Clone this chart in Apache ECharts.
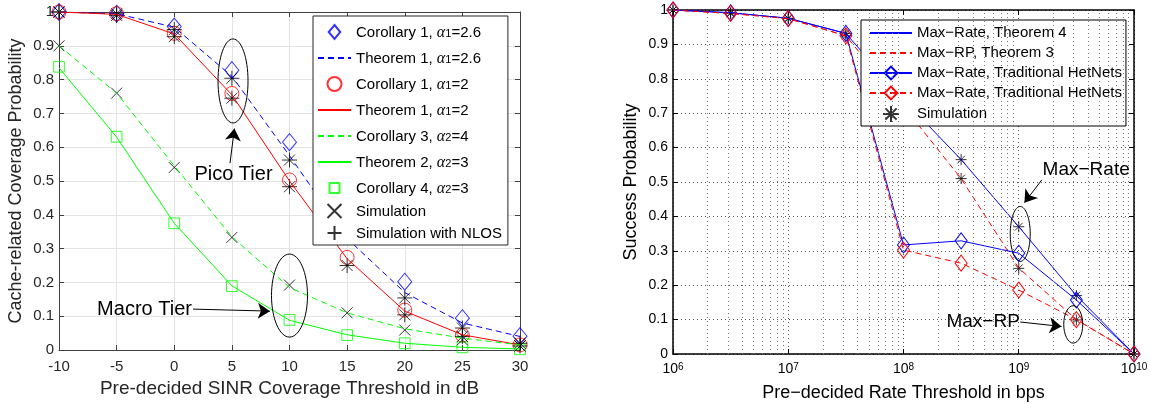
<!DOCTYPE html>
<html>
<head>
<meta charset="utf-8">
<script src="https://cdn.jsdelivr.net/npm/echarts@6/dist/echarts.min.js"></script>
<style>
html, body { margin: 0; padding: 0; background: #fff; }
#main { width: 1151px; height: 404px; }
</style>
</head>
<body>
<div id="main"></div>
<script>
// 左图: cache-related coverage vs SINR threshold (dB)
var sinrDb = [-10, -5, 0, 5, 10, 15, 20, 25, 30];
var cor1A26 = [1.0, 0.995, 0.957, 0.828, 0.615, 0.40, 0.202, 0.094, 0.041];
var thm1A26 = [1.0, 0.995, 0.955, 0.81, 0.575, 0.33, 0.17, 0.08, 0.04];
var cor1A2 = [1.0, 0.995, 0.937, 0.759, 0.503, 0.274, 0.118, 0.044, 0.015];
var thm1A2 = [1.0, 0.993, 0.935, 0.755, 0.50, 0.27, 0.115, 0.045, 0.015];
var cor3A4 = [0.9, 0.76, 0.545, 0.335, 0.185, 0.11, 0.063, 0.035, 0.015];
var thm2A3 = [0.835, 0.63, 0.375, 0.19, 0.088, 0.045, 0.02, 0.008, 0.003];
var cor4A3 = [0.838, 0.631, 0.375, 0.189, 0.089, 0.044, 0.02, 0.008, 0.002];
var simPicoA26 = [1.0, 0.995, 0.948, 0.804, 0.562, 0.37, 0.154, 0.065, 0.02];
var simPicoA2 = [1.0, 0.99, 0.927, 0.745, 0.483, 0.25, 0.104, 0.04, 0.012];
var simMacro = [0.9, 0.76, 0.54, 0.333, 0.192, 0.11, 0.059, 0.03, 0.012];

// 右图: success probability vs rate threshold (bps)
var rateBps = [1e6, 3.162e6, 1e7, 3.162e7, 1e8, 3.162e8, 1e9, 3.162e9, 1e10];
var maxRateThm4 = [1.0, 0.992, 0.976, 0.932, 0.74, 0.565, 0.37, 0.17, 0.0];
var maxRpThm3 = [1.0, 0.99, 0.975, 0.925, 0.72, 0.51, 0.25, 0.10, 0.0];
var maxRateTrad = [1.0, 0.992, 0.976, 0.932, 0.317, 0.329, 0.293, 0.157, 0.0];
var maxRpTrad = [1.0, 0.99, 0.975, 0.925, 0.302, 0.264, 0.186, 0.10, 0.0];
var simRateHi = [1.0, 0.992, 0.976, 0.932, 0.75, 0.565, 0.37, 0.17, 0.0];
var simRateLo = [1.0, 0.99, 0.975, 0.925, 0.72, 0.51, 0.249, 0.099, 0.0];

var minorMant = [2, 3, 4, 5, 6, 7, 8, 9];
var decades = [1e6, 1e7, 1e8, 1e9];

var FONT = 'Liberation Sans, Arial, Helvetica, sans-serif';
var BLUE = '#0000ff', RED = '#ff0000', GREEN = '#00ff00', BLACK = '#000000';
var DIAMOND = 'path://M7,0L14,8.5L7,17L0,8.5Z';
var SQUARE = 'path://M0,0M2,2L12,2L12,12L2,12ZM14,14';
var CROSS = 'path://M0,0L10,10M10,0L0,10';
var PLUS = 'path://M5,0L5,10M0,5L10,5';
var STAR = 'path://M5,0L5,10M0,5L10,5M1.5,1.5L8.5,8.5M8.5,1.5L1.5,8.5';
var NO_SYMBOL = {opacity: 0, color: 'rgba(0,0,0,0)', borderColor: 'rgba(0,0,0,0)'};

function pairs(xs, ys) {
    return xs.map(function (x, i) { return [x, ys[i]]; });
}

var minorGrid = [];
decades.forEach(function (d) {
    minorMant.forEach(function (m) { minorGrid.push({xAxis: m * d}); });
});

var leftNames = ['Corollary 1, α1=2.6', 'Theorem 1, α1=2.6', 'Corollary 1, α1=2',
    'Theorem 1, α1=2', 'Corollary 3, α2=4', 'Theorem 2, α2=3', 'Corollary 4, α2=3',
    'Simulation', 'Simulation with NLOS'];
var leftLineOnly = [1, 3, 4, 5];
var rightNames = ['Max−Rate, Theorem 4', 'Max−RP, Theorem 3', 'Max−Rate, Traditional HetNets',
    'Max−RP, Traditional HetNets', 'Simulation '];
var rightLineOnly = [0, 1];

function legendData(names, lineOnly) {
    return names.map(function (n, i) {
        return lineOnly.indexOf(i) >= 0 ? {name: n, itemStyle: NO_SYMBOL} : {name: n};
    });
}

function hollow(color) {
    return {color: 'rgba(0,0,0,0)', borderColor: color, borderWidth: 1};
}

var leftAxisCommon = {
    axisLine: {show: true, onZero: false, lineStyle: {color: '#404040', width: 1}},
    axisTick: {show: true, inside: true, length: 5, lineStyle: {color: '#404040'}}
};
var rightAxisCommon = {
    axisLine: {show: true, onZero: false, lineStyle: {color: BLACK, width: 1.5}},
    axisTick: {show: true, inside: true, length: 5, lineStyle: {color: BLACK}}
};

var option = {
    animation: false,
    backgroundColor: '#fff',
    textStyle: {fontFamily: FONT},
    grid: [
        {left: 59, top: 12, width: 461, height: 338, outerBoundsMode: 'none', containLabel: false},
        {left: 673, top: 10, width: 461, height: 344, outerBoundsMode: 'none', containLabel: false}
    ],
    legend: [
        {
            orient: 'vertical', left: 313, top: 16,
            padding: [5, 6, 4, 4], itemWidth: 33, itemHeight: 14, itemGap: 6,
            symbolKeepAspect: true,
            backgroundColor: '#fff', borderColor: '#262626', borderWidth: 1,
            selectedMode: false, data: legendData(leftNames, leftLineOnly),
            formatter: function (name) {
                var m = name.match(/^(.*)α(\d)(.*)$/);
                if (!m) return '{t|' + name + '}';
                return '{t|' + m[1] + '}{g|α}{s|' + m[2] + '}{t|' + m[3] + '}';
            },
            textStyle: {
                fontFamily: FONT, fontSize: 15, color: BLACK, lineHeight: 14,
                rich: {
                    t: {fontFamily: FONT, fontSize: 15, lineHeight: 14, verticalAlign: 'top'},
                    g: {fontFamily: 'Liberation Serif, serif', fontStyle: 'italic', fontSize: 16, lineHeight: 14, verticalAlign: 'top'},
                    s: {fontFamily: FONT, fontSize: 11, lineHeight: 11, padding: [7, 0, 0, 0], verticalAlign: 'bottom'}
                }
            }
        },
        {
            orient: 'vertical', left: 861, top: 20,
            padding: [5, 4, 3, 8], itemWidth: 42, itemHeight: 16, itemGap: 4,
            backgroundColor: '#fff', borderColor: BLACK, borderWidth: 1,
            selectedMode: false, data: legendData(rightNames, rightLineOnly),
            formatter: function (name) {
                return name === 'Max−RP, Traditional HetNets' ? 'Max−Rate, Traditional HetNets' : name;
            },
            textStyle: {fontFamily: FONT, fontSize: 15, lineHeight: 16, color: BLACK}
        }
    ],
    xAxis: [
        Object.assign({
            gridIndex: 0, type: 'value', position: 'bottom', min: -10, max: 30, interval: 5,
            axisLabel: {margin: 9, fontSize: 15, color: '#262626', fontFamily: FONT},
            splitLine: {show: true, lineStyle: {color: '#e3e3e3', width: 1}},
            name: 'Pre-decided SINR Coverage Threshold in dB', nameLocation: 'middle', nameGap: 27,
            nameTextStyle: {fontSize: 19, color: '#262626', fontFamily: FONT}
        }, leftAxisCommon),
        Object.assign({
            gridIndex: 0, type: 'value', position: 'top', min: -10, max: 30, interval: 5,
            axisLabel: {show: false}, splitLine: {show: false}
        }, leftAxisCommon),
        Object.assign({
            gridIndex: 1, type: 'log', logBase: 10, position: 'bottom', min: 1e6, max: 1e10,
            axisLabel: {
                margin: 8, color: BLACK, fontFamily: FONT,
                formatter: function (v) { return '{b|10}{s|' + Math.round(Math.log10(v)) + '}'; },
                rich: {
                    b: {fontSize: 14, lineHeight: 14, verticalAlign: 'bottom', fontFamily: FONT},
                    s: {fontSize: 10, lineHeight: 10, padding: [0, 0, 7, 0], verticalAlign: 'top', fontFamily: FONT}
                }
            },
            splitLine: {show: true, lineStyle: {color: '#555', width: 1, type: [1, 3]}},
            name: 'Pre−decided Rate Threshold in bps', nameLocation: 'middle', nameGap: 28,
            nameTextStyle: {fontSize: 18, color: BLACK, fontFamily: FONT}
        }, rightAxisCommon),
        Object.assign({
            gridIndex: 1, type: 'log', logBase: 10, position: 'top', min: 1e6, max: 1e10,
            axisLabel: {show: false}, splitLine: {show: false}
        }, rightAxisCommon)
    ],
    yAxis: [
        Object.assign({
            gridIndex: 0, type: 'value', position: 'left', min: 0, max: 1, interval: 0.1,
            axisLabel: {margin: 5, fontSize: 15, color: '#262626', fontFamily: FONT},
            splitLine: {show: true, lineStyle: {color: '#e3e3e3', width: 1}},
            name: 'Cache-related Coverage Probability', nameLocation: 'middle', nameGap: 34,
            nameTextStyle: {fontSize: 18, color: '#262626', fontFamily: FONT}
        }, leftAxisCommon),
        Object.assign({
            gridIndex: 0, type: 'value', position: 'right', min: 0, max: 1, interval: 0.1,
            axisLabel: {show: false}, splitLine: {show: false}
        }, leftAxisCommon),
        Object.assign({
            gridIndex: 1, type: 'value', position: 'left', min: 0, max: 1, interval: 0.1,
            axisLabel: {margin: 5, fontSize: 14, color: BLACK, fontFamily: FONT},
            splitLine: {show: true, lineStyle: {color: '#555', width: 1, type: [1, 3]}},
            name: 'Success Probability', nameLocation: 'middle', nameGap: 33,
            nameTextStyle: {fontSize: 18, color: BLACK, fontFamily: FONT}
        }, rightAxisCommon),
        Object.assign({
            gridIndex: 1, type: 'value', position: 'right', min: 0, max: 1, interval: 0.1,
            axisLabel: {show: false}, splitLine: {show: false}
        }, rightAxisCommon)
    ],
    series: [
        // ---- left ----
        {name: leftNames[1], type: 'line', xAxisIndex: 0, yAxisIndex: 0, data: pairs(sinrDb, thm1A26),
            symbol: 'none', lineStyle: {color: BLUE, width: 1, type: [6, 4]}, itemStyle: {color: BLUE}},
        {name: leftNames[3], type: 'line', xAxisIndex: 0, yAxisIndex: 0, data: pairs(sinrDb, thm1A2),
            symbol: 'none', lineStyle: {color: RED, width: 1}, itemStyle: {color: RED}},
        {name: leftNames[4], type: 'line', xAxisIndex: 0, yAxisIndex: 0, data: pairs(sinrDb, cor3A4),
            symbol: 'none', lineStyle: {color: GREEN, width: 1, type: [6, 4]}, itemStyle: {color: GREEN}},
        {name: leftNames[5], type: 'line', xAxisIndex: 0, yAxisIndex: 0, data: pairs(sinrDb, thm2A3),
            symbol: 'none', lineStyle: {color: GREEN, width: 1}, itemStyle: {color: GREEN}},
        {name: leftNames[0], type: 'scatter', xAxisIndex: 0, yAxisIndex: 0, data: pairs(sinrDb, cor1A26),
            symbol: DIAMOND, symbolSize: [14, 17], itemStyle: hollow(BLUE)},
        {name: leftNames[2], type: 'scatter', xAxisIndex: 0, yAxisIndex: 0, data: pairs(sinrDb, cor1A2),
            symbol: 'circle', symbolSize: 14, itemStyle: hollow(RED)},
        {name: leftNames[6], type: 'scatter', xAxisIndex: 0, yAxisIndex: 0, data: pairs(sinrDb, cor4A3),
            symbol: SQUARE, symbolSize: 15, itemStyle: hollow(GREEN)},
        {name: leftNames[7], type: 'scatter', xAxisIndex: 0, yAxisIndex: 0,
            data: pairs(sinrDb, simPicoA26).concat(pairs(sinrDb, simPicoA2), pairs(sinrDb, simMacro)),
            symbol: CROSS, symbolSize: 11, itemStyle: {color: 'rgba(0,0,0,0)', borderColor: BLACK, borderWidth: 1}},
        {name: leftNames[8], type: 'scatter', xAxisIndex: 0, yAxisIndex: 0,
            data: pairs(sinrDb, simPicoA26).concat(pairs(sinrDb, simPicoA2)),
            symbol: PLUS, symbolSize: 15, itemStyle: {color: 'rgba(0,0,0,0)', borderColor: BLACK, borderWidth: 1}},
        // left arrows
        {type: 'line', xAxisIndex: 0, yAxisIndex: 0, data: [], silent: true,
            markLine: {silent: true, symbol: ['none', 'arrow'], symbolSize: 12, label: {show: false},
                lineStyle: {color: BLACK, width: 1, type: 'solid'},
                data: [
                    [{coord: [4.84, 0.553]}, {coord: [5.22, 0.655]}],
                    [{coord: [1.63, 0.121]}, {coord: [8.3, 0.115]}]
                ]}},
        // ---- right ----
        {type: 'line', xAxisIndex: 2, yAxisIndex: 2, data: [], silent: true,
            markLine: {silent: true, symbol: 'none', label: {show: false},
                lineStyle: {color: '#777', width: 1, type: [1, 3]}, data: minorGrid}},
        {name: rightNames[0], type: 'line', xAxisIndex: 2, yAxisIndex: 2, data: pairs(rateBps, maxRateThm4),
            symbol: 'none', lineStyle: {color: BLUE, width: 1}, itemStyle: {color: BLUE}},
        {name: rightNames[1], type: 'line', xAxisIndex: 2, yAxisIndex: 2, data: pairs(rateBps, maxRpThm3),
            symbol: 'none', lineStyle: {color: RED, width: 1, type: [6, 4]}, itemStyle: {color: RED}},
        {name: rightNames[2], type: 'line', xAxisIndex: 2, yAxisIndex: 2, data: pairs(rateBps, maxRateTrad),
            symbol: 'diamond', symbolSize: [12, 16], showAllSymbol: true,
            lineStyle: {color: BLUE, width: 1}, itemStyle: hollow(BLUE)},
        {name: rightNames[3], type: 'line', xAxisIndex: 2, yAxisIndex: 2, data: pairs(rateBps, maxRpTrad),
            symbol: 'diamond', symbolSize: [12, 16], showAllSymbol: true,
            lineStyle: {color: RED, width: 1, type: [6, 4]}, itemStyle: hollow(RED)},
        {name: rightNames[4], type: 'scatter', xAxisIndex: 2, yAxisIndex: 2,
            data: pairs(rateBps, simRateHi).concat(pairs(rateBps, simRateLo)),
            symbol: STAR, symbolSize: 11, itemStyle: {color: 'rgba(0,0,0,0)', borderColor: BLACK, borderWidth: 1}},
        // right arrows
        {type: 'line', xAxisIndex: 2, yAxisIndex: 2, data: [], silent: true,
            markLine: {silent: true, symbol: ['none', 'arrow'], symbolSize: 12, label: {show: false},
                lineStyle: {color: BLACK, width: 1, type: 'solid'},
                data: [
                    [{coord: [1.585e9, 0.506]}, {coord: [1.12e9, 0.44]}],
                    [{coord: [1.03e9, 0.093]}, {coord: [2.35e9, 0.08]}]
                ]}}
    ]
};

var chart = echarts.init(document.getElementById('main'));
chart.setOption(option);

// 注释: 椭圆 + 文字
var L = {xAxisIndex: 0, yAxisIndex: 0};
var R = {xAxisIndex: 2, yAxisIndex: 2};
function px(f, v) { return chart.convertToPixel(f, v); }
function ellipse(p, rx, ry) {
    return {type: 'ellipse', silent: true, z: 10,
        shape: {cx: p[0], cy: p[1], rx: rx, ry: ry},
        style: {fill: 'none', stroke: BLACK, lineWidth: 1}};
}
function label(p, text, size) {
    return {type: 'text', silent: true, z: 10, x: p[0], y: p[1],
        style: {text: text, font: size + 'px ' + FONT, fill: BLACK,
            align: 'center', verticalAlign: 'middle', textAlign: 'center', textVerticalAlign: 'middle'}};
}
chart.setOption({
    graphic: [
        ellipse(px(L, [5.1, 0.796]), 15, 42),
        ellipse(px(L, [10, 0.161]), 18, 41.5),
        label(px(L, [5.14, 0.518]), 'Pico Tier', 20),
        label(px(L, [-2.58, 0.121]), 'Macro Tier', 20),
        ellipse(px(R, [1.03e9, 0.349]), 10, 27.5),
        ellipse(px(R, [2.97e9, 0.086]), 9.5, 18.7),
        label(px(R, [Math.pow(10, 9.585), 0.535]), 'Max−Rate', 19),
        label(px(R, [Math.pow(10, 8.691), 0.094]), 'Max−RP', 19)
    ]
});
</script>
</body>
</html>
